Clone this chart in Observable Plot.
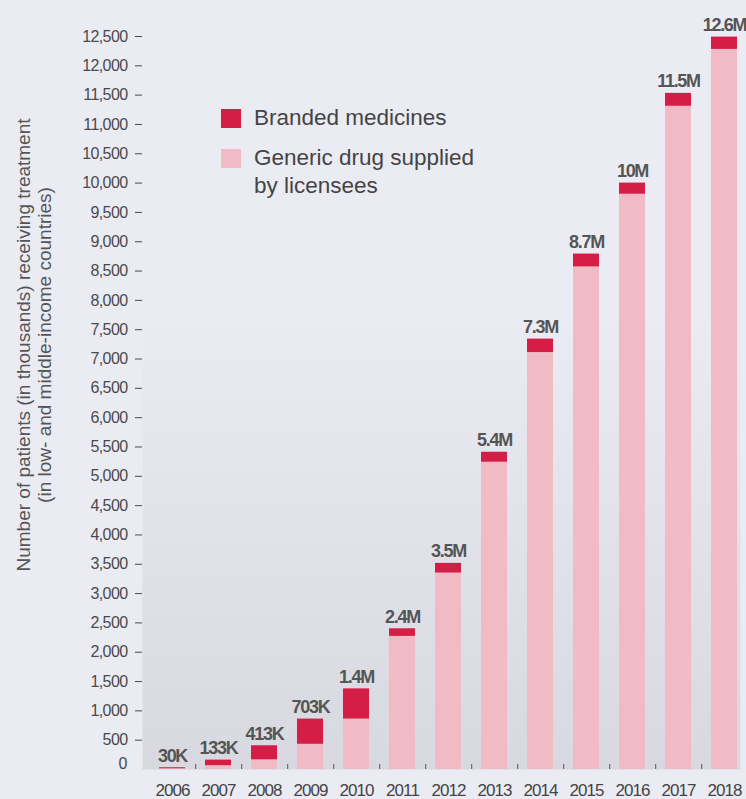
<!DOCTYPE html>
<html>
<head>
<meta charset="utf-8">
<script src="https://cdn.jsdelivr.net/npm/d3@7"></script>
<script src="https://cdn.jsdelivr.net/npm/@observablehq/plot@0.6"></script>
<style>
  html, body { margin: 0; padding: 0; background: #ebebf4; }
  #wrap { position: relative; width: 746px; height: 799px; overflow: hidden; }
  #legend { position: absolute; left: 221px; top: 104px; font-family: "Liberation Sans", Arial, sans-serif; font-size: 22.5px; color: #444; line-height: 28px; }
  .item { display: flex; align-items: flex-start; margin-bottom: 12px; }
  .sw { width: 20px; height: 19px; margin-right: 13px; margin-top: 5px; flex: none; }
  svg .tight text { letter-spacing: -0.6px; }
  svg .tightx text { letter-spacing: -0.9px; }
  svg .tighter text { letter-spacing: -1.3px; }
</style>
</head>
<body>
<div id="wrap">
  <div id="chart"></div>
  <div id="legend"></div>
</div>
<script>
const years = ["2006","2007","2008","2009","2010","2011","2012","2013","2014","2015","2016","2017","2018"];
const generic = [12, 65, 165, 430, 860, 2270, 3350, 5240, 7110, 8570, 9810, 11310, 12280];
const branded = [18, 95, 240, 430, 515, 130, 165, 170, 230, 220, 190, 220, 210];
const totalLabels = ["30K","133K","413K","703K","1.4M","2.4M","3.5M","5.4M","7.3M","8.7M","10M","11.5M","12.6M"];
const yTicks = [500,1000,1500,2000,2500,3000,3500,4000,4500,5000,5500,6000,6500,7000,7500,8000,8500,9000,9500,10000,10500,11000,11500,12000,12500];
const seriesNames = ["Generic drug supplied by licensees", "Branded medicines"];
const seriesColors = ["#f1bbc5", "#d41e46"];
const legendLabels = ["Branded medicines", "Generic drug supplied<br>by licensees"];
const titleLines = ["Number of patients (in thousands) receiving treatment", "(in low- and middle-income countries)"];

const rows = [];
years.forEach((y, i) => {
  rows.push({year: y, series: seriesNames[0], value: generic[i]});
  rows.push({year: y, series: seriesNames[1], value: branded[i]});
});
const totals = years.map((y, i) => ({year: y, total: generic[i] + branded[i], label: totalLabels[i]}));

const sans = '"Liberation Sans", Arial, sans-serif';
const step = 596 / (13 - 0.43 + 2 * 0.136);

const svg = Plot.plot({
  width: 746,
  height: 799,
  marginTop: 0,
  marginBottom: 30,
  marginLeft: 142,
  marginRight: 6,
  style: {background: "transparent", fontFamily: sans, overflow: "visible"},
  x: {type: "band", domain: years, range: [150, 746], paddingInner: 0.43, paddingOuter: 0.136, axis: null},
  y: {domain: [0, 12500], range: [769, 36], axis: null},
  color: {domain: seriesNames, range: seriesColors},
  marks: [
    Plot.frame({fill: "url(#plotbg)", stroke: "none"}),
    Plot.barY(rows, {x: "year", y: "value", fill: "series"}),
    Plot.tickX(years.slice(0, -1), {x: d => d, dx: step / 2, insetTop: 764, stroke: "#555", strokeWidth: 1}),
    Plot.axisX({tickSize: 0, tickPadding: 14, fontSize: 17, color: "#444", label: null, className: "tightx"}),
    Plot.axisY(yTicks, {tickSize: 7, tickPadding: 8, tickFormat: d3.format(","), fontSize: 16, color: "#4a4a4a", label: null, className: "tight"}),
    Plot.text([0], {y: d => d, frameAnchor: "left", dx: -15, dy: -6, textAnchor: "end", text: d => "0", fontSize: 16, fill: "#4a4a4a"}),
    Plot.text(totals, {x: "year", y: "total", text: "label", dy: -6, lineAnchor: "bottom", fontSize: 18, fontWeight: "bold", fill: "#555", className: "tighter"}),
    Plot.text([titleLines.join("\n")], {frameAnchor: "left", dx: -108.5, dy: -40, rotate: -90, textAnchor: "middle", lineAnchor: "middle", fontSize: 19, fill: "#555", lineHeight: 1.1})
  ]
});

// gradient for the plot area
const ns = "http://www.w3.org/2000/svg";
const defs = document.createElementNS(ns, "defs");
const grad = document.createElementNS(ns, "linearGradient");
grad.setAttribute("id", "plotbg");
grad.setAttribute("x1", "0"); grad.setAttribute("y1", "0");
grad.setAttribute("x2", "0"); grad.setAttribute("y2", "1");
[["0", "#ebebf4"], ["0.4", "#ebebf4"], ["1", "#d8d8e0"]].forEach(([o, c]) => {
  const s = document.createElementNS(ns, "stop");
  s.setAttribute("offset", o);
  s.setAttribute("stop-color", c);
  grad.appendChild(s);
});
defs.appendChild(grad);
svg.insertBefore(defs, svg.firstChild);

document.getElementById("chart").appendChild(svg);

const legend = document.getElementById("legend");
[1, 0].forEach((si, k) => {
  const item = document.createElement("div");
  item.className = "item";
  const sw = document.createElement("div");
  sw.className = "sw";
  sw.style.background = seriesColors[si];
  const t = document.createElement("div");
  t.innerHTML = legendLabels[k];
  item.appendChild(sw);
  item.appendChild(t);
  legend.appendChild(item);
});
</script>
</body>
</html>
